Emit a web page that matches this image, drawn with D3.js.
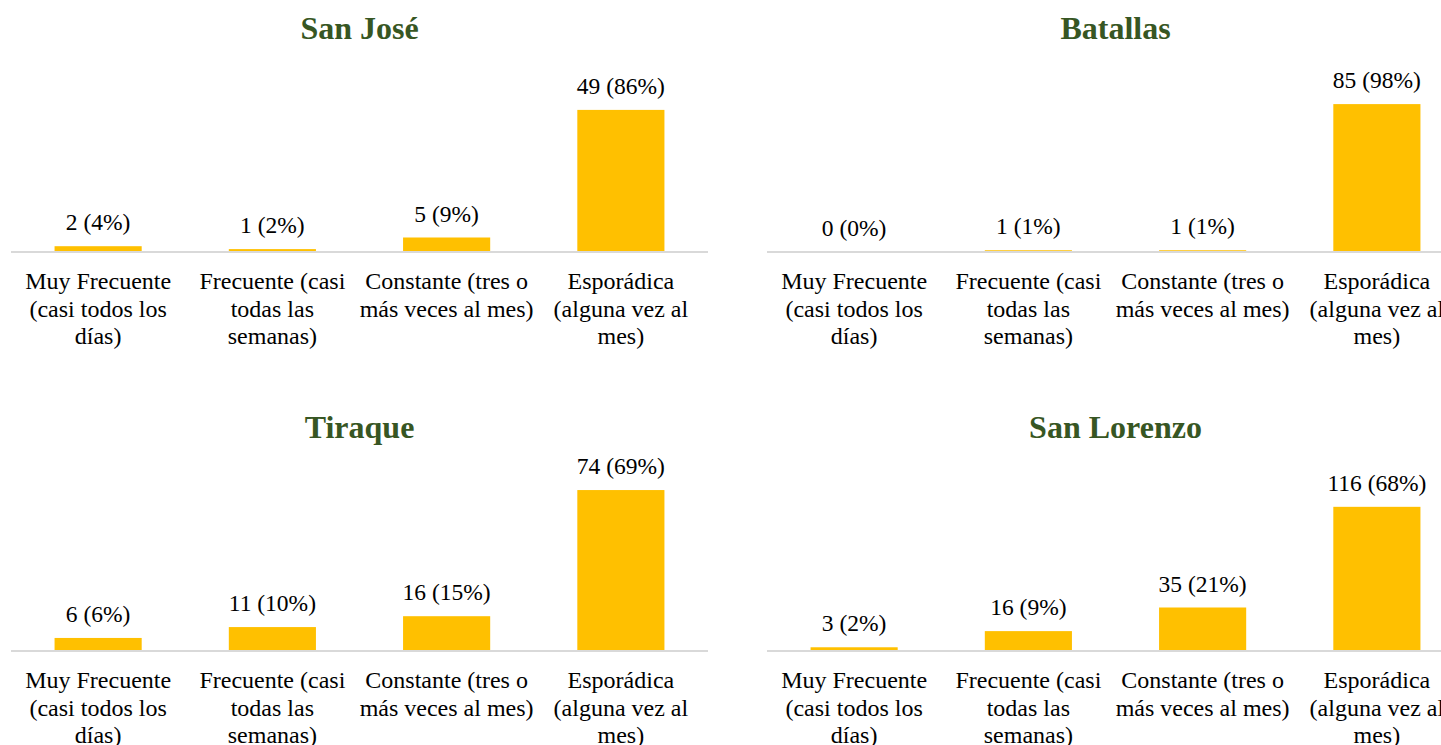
<!DOCTYPE html>
<html><head><meta charset="utf-8">
<script src="https://cdn.jsdelivr.net/npm/d3@7"></script>
<style>
html,body{margin:0;padding:0;background:#fff;overflow:hidden}
svg{display:block;font-family:"Liberation Serif","Times New Roman",serif}
</style></head>
<body><svg id="c" width="1441" height="745"></svg>
<script>
const categories = [
  "Muy Frecuente\n(casi todos los\ndías)",
  "Frecuente (casi\ntodas las\nsemanas)",
  "Constante (tres o\nmás veces al mes)",
  "Esporádica\n(alguna vez al\nmes)"
];
const titles = ["San José", "Batallas", "Tiraque", "San Lorenzo"];
const sanJoseCounts = [2, 1, 5, 49];
const sanJosePct = [4, 2, 9, 86];
const batallasCounts = [0, 1, 1, 85];
const batallasPct = [0, 1, 1, 98];
const tiraqueCounts = [6, 11, 16, 74];
const tiraquePct = [6, 10, 15, 69];
const sanLorenzoCounts = [3, 16, 35, 116];
const sanLorenzoPct = [2, 9, 21, 68];
const yMax = [60, 100, 80, 140];

const panels = [
  {title: titles[0], counts: sanJoseCounts, pct: sanJosePct, max: yMax[0], x0: 11, base: 252},
  {title: titles[1], counts: batallasCounts, pct: batallasPct, max: yMax[1], x0: 767, base: 252},
  {title: titles[2], counts: tiraqueCounts, pct: tiraquePct, max: yMax[2], x0: 11, base: 651},
  {title: titles[3], counts: sanLorenzoCounts, pct: sanLorenzoPct, max: yMax[3], x0: 767, base: 651}
];

const svg = d3.select("#c");
const W = 697, H = 174;

panels.forEach(p => {
  const g = svg.append("g");
  const x = d3.scaleBand().domain(categories).range([p.x0, p.x0 + W]).paddingInner(0.5).paddingOuter(0.25);
  const y = d3.scaleLinear().domain([0, p.max]).range([p.base, p.base - H]);

  g.append("text")
    .attr("x", p.x0 + W / 2).attr("y", p.base - 213)
    .attr("text-anchor", "middle")
    .attr("font-size", 32).attr("font-weight", "bold")
    .attr("fill", "#375623")
    .text(p.title);

  const data = categories.map((c, i) => ({c, v: p.counts[i], pct: p.pct[i]}));

  g.selectAll("rect.bar").data(data).join("rect")
    .attr("class", "bar")
    .attr("x", d => x(d.c)).attr("width", x.bandwidth())
    .attr("y", d => y(d.v)).attr("height", d => y(0) - y(d.v))
    .attr("fill", "#FFC000");

  const axis = d3.axisBottom(x).tickSize(0).tickFormat("");
  const ag = g.append("g").attr("transform", `translate(0,${p.base})`).call(axis);
  ag.select(".domain").attr("stroke", "#d9d9d9").attr("stroke-width", 2)
    .attr("d", `M${p.x0},0H${p.x0 + W}`);

  g.selectAll("text.val").data(data).join("text")
    .attr("class", "val")
    .attr("x", d => x(d.c) + x.bandwidth() / 2)
    .attr("y", d => y(d.v) - 16)
    .attr("text-anchor", "middle")
    .attr("font-size", 23.5).attr("fill", "#000")
    .text(d => `${d.v} (${d.pct}%)`);

  const cl = g.selectAll("text.cat").data(categories).join("text")
    .attr("class", "cat")
    .attr("text-anchor", "middle")
    .attr("font-size", 24).attr("fill", "#000");
  cl.each(function(c) {
    const t = d3.select(this);
    c.split("\n").forEach((line, i) => {
      t.append("tspan")
        .attr("x", x(c) + x.bandwidth() / 2)
        .attr("y", p.base + 37 + i * 27.5)
        .text(line);
    });
  });
});
</script>
</body></html>
